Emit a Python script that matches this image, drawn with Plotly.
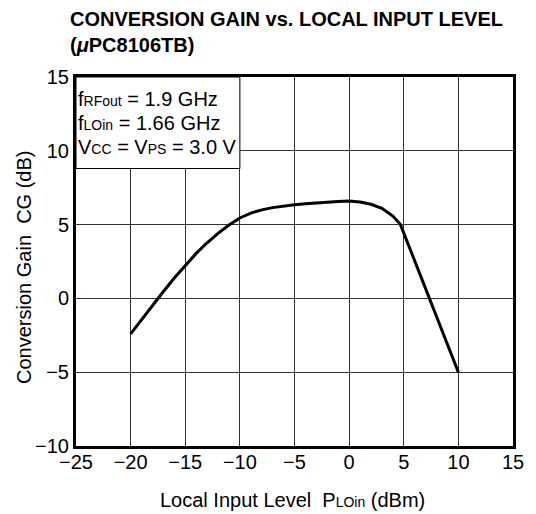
import plotly.graph_objects as go

lo_level = [-20, -19, -18, -17, -16, -15, -14, -13, -12, -11, -10, -9, -8, -7, -6,
            -5, -4, -3, -2, -1, 0, 1, 2, 3, 4, 4.7, 10]
conv_gain = [-2.4, -1.43, -0.47, 0.47, 1.38, 2.25, 3.05, 3.77, 4.41, 4.97, 5.45, 5.78, 6.0,
             6.15, 6.26, 6.35, 6.42, 6.48, 6.53, 6.57, 6.6, 6.53, 6.38, 6.1, 5.58, 5.0, -5.0]
x_ticks = [-25, -20, -15, -10, -5, 0, 5, 10, 15]
y_ticks = [-10, -5, 0, 5, 10, 15]

FONT = "Liberation Sans, Arial, sans-serif"
OFF = 8  # page body margin
W, H = 536 - OFF, 514 - OFF
L, T = 76 - OFF, 77 - OFF
R = W - (521 - OFF)
B = H - (446 - OFF)
PW, PH = W - L - R, H - T - B


def px_x(px):
    return (px - OFF - L) / PW


def px_y(py):
    return 1 - (py - OFF - T) / PH


fig = go.Figure()
fig.add_trace(go.Scatter(x=lo_level, y=conv_gain, mode="lines",
                         line=dict(color="black", width=3),
                         showlegend=False))

fig.add_shape(type="rect", xref="x", yref="y", x0=-25, x1=-10, y0=8.8, y1=15,
              fillcolor="white", line=dict(color="black", width=1), layer="above")

sub = '<span style="font-size:14px">%s</span>'
cond = [
    ("f" + sub % "RFout" + " = 1.9 GHz", 99),
    ("f" + sub % "LOin" + " = 1.66 GHz", 123),
    ("V" + sub % "CC" + " = V" + sub % "PS" + " = 3.0 V", 147),
]
for txt, py in cond:
    fig.add_annotation(xref="paper", yref="paper", x=px_x(76), y=px_y(py),
                       xanchor="left", yanchor="middle", text=txt, showarrow=False,
                       font=dict(family=FONT, size=20, color="black"))

# title lines
fig.add_annotation(xref="paper", yref="paper", x=px_x(68), y=px_y(19.5),
                   xanchor="left", yanchor="middle",
                   text="<b>CONVERSION GAIN vs. LOCAL INPUT LEVEL</b>", showarrow=False,
                   font=dict(family=FONT, size=20, color="black"))
fig.add_annotation(xref="paper", yref="paper", x=px_x(68), y=px_y(45),
                   xanchor="left", yanchor="middle",
                   text="<b>(<i>μ</i>PC8106TB)</b>", showarrow=False,
                   font=dict(family=FONT, size=20, color="black"))

# axis titles
fig.add_annotation(xref="paper", yref="paper", x=px_x(296), y=px_y(500),
                   xanchor="center", yanchor="middle",
                   text="Local Input Level\u00a0\u00a0P" + sub % "LOin" + " (dBm)",
                   showarrow=False, font=dict(family=FONT, size=20, color="black"))
fig.add_annotation(xref="paper", yref="paper", x=px_x(23), y=px_y(267),
                   xanchor="center", yanchor="middle", textangle=-90,
                   text="Conversion Gain\u00a0\u00a0CG (dB)",
                   showarrow=False, font=dict(family=FONT, size=20, color="black"))

fig.update_layout(
    width=W, height=H,
    margin=dict(l=L, r=R, t=T, b=B),
    paper_bgcolor="white", plot_bgcolor="white",
    font=dict(family=FONT, size=20, color="black"),
)
fig.update_xaxes(range=[-25, 15], tickvals=x_ticks, ticks="", showgrid=True,
                 gridcolor="#333", gridwidth=1, zeroline=False,
                 showline=True, linecolor="black", linewidth=3, mirror=True,
                 tickfont=dict(size=20), ticklabelstandoff=-4)
fig.update_yaxes(range=[-10, 15], tickvals=y_ticks, ticks="", showgrid=True,
                 gridcolor="#333", gridwidth=1, zeroline=False,
                 showline=True, linecolor="black", linewidth=3, mirror=True,
                 tickfont=dict(size=20))

fig.write_html("out.html", config={"displayModeBar": False})
